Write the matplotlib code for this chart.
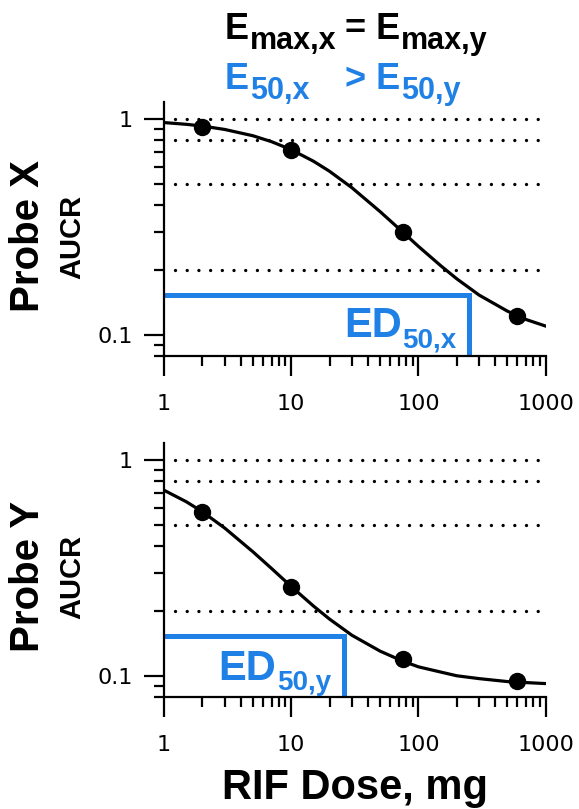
import matplotlib
matplotlib.use('Agg')
import matplotlib.pyplot as plt
from matplotlib.ticker import FixedLocator, FixedFormatter, LogLocator, NullFormatter
import numpy as np

# observed points (dose in mg, AUC ratio)
dose = [2, 10, 75, 600]
aucr_x = [0.921, 0.72, 0.30, 0.123]
aucr_y = [0.574, 0.259, 0.119, 0.0945]

# fitted curves
curve_dose = [1, 1.5, 2, 3, 5, 7, 10, 15, 20, 30, 50, 75, 100, 150, 200, 300, 500, 700, 1000]
curve_x = [0.961, 0.943, 0.926, 0.893, 0.835, 0.784, 0.720, 0.636, 0.572, 0.480,
           0.372, 0.300, 0.257, 0.209, 0.182, 0.153, 0.129, 0.118, 0.110]
curve_y = [0.723, 0.639, 0.575, 0.483, 0.375, 0.314, 0.259, 0.210, 0.183, 0.154,
           0.130, 0.117, 0.110, 0.104, 0.100, 0.097, 0.094, 0.093, 0.092]

ed50_x = 250
ed50_y = 26
ed50_level = 0.153

ref_lines = [1, 0.8, 0.5, 0.2]
xtick_vals = [1, 10, 100, 1000]
xtick_labels = ['1', '10', '100', '1000']
ytick_vals = [0.1, 1]
ytick_labels = ['0.1', '1']

BLUE = '#1f80e6'
BOLD = 'Liberation Sans'
W, H = 579, 809

plt.rcParams['font.family'] = ['DejaVu Sans']

fig = plt.figure(figsize=(W / 100, H / 100), dpi=100)
ax1 = fig.add_axes([164 / W, 1 - 356 / H, 381.7 / W, 254.3 / H])
ax2 = fig.add_axes([164 / W, 1 - 696.7 / H, 381.7 / W, 254 / H])


def subscripted(ax, x, y, main, sub, size, sub_size, color, drop, transform):
    t = ax.text(x, y, main, transform=transform, fontsize=size, fontweight='bold',
                family=BOLD, color=color, ha='left', va='baseline')
    ax.annotate(sub, xy=(1, 0), xycoords=t, xytext=(0.5, -drop), textcoords='offset points',
                fontsize=sub_size, fontweight='bold', family=BOLD, color=color,
                ha='left', va='bottom')
    return t


def panel(ax, curve, pts, ed50, sub, txt_xy):
    ax.set_xscale('log')
    ax.set_yscale('log')
    ax.set_xlim(1, 1000)
    ax.set_ylim(0.08, 1.2)

    for r in ref_lines:
        ax.axhline(r, xmin=0.03, xmax=1, color='k', lw=2.4, linestyle=(0, (0.01, 3.5)),
                   dash_capstyle='round', zorder=1)
    ax.plot([1, ed50, ed50], [ed50_level, ed50_level, 0.08], color=BLUE, lw=3.6,
            solid_joinstyle='miter', solid_capstyle='butt', zorder=2)
    ax.plot(curve_dose, curve, color='k', lw=2.3, zorder=3)
    ax.plot(dose, pts, 'o', color='k', ms=11.5, zorder=4)

    ax.xaxis.set_major_locator(FixedLocator(xtick_vals))
    ax.xaxis.set_major_formatter(FixedFormatter(xtick_labels))
    ax.xaxis.set_minor_locator(LogLocator(base=10, subs=np.arange(2, 10)))
    ax.xaxis.set_minor_formatter(NullFormatter())
    ax.yaxis.set_major_locator(FixedLocator(ytick_vals))
    ax.yaxis.set_major_formatter(FixedFormatter(ytick_labels))
    ax.yaxis.set_minor_locator(LogLocator(base=10, subs=np.arange(2, 10)))
    ax.yaxis.set_minor_formatter(NullFormatter())

    ax.tick_params(which='major', length=14.4, width=1.6, labelsize=16)
    ax.tick_params(which='minor', length=7.2, width=1.6)
    ax.tick_params(axis='x', which='major', pad=13)
    ax.tick_params(axis='y', which='major', pad=8)
    for s in ['top', 'right']:
        ax.spines[s].set_visible(False)
    for s in ['left', 'bottom']:
        ax.spines[s].set_linewidth(1.6)

    subscripted(ax, txt_xy[0], txt_xy[1], 'ED', sub, 30, 20, BLUE, 5, ax.transAxes)


panel(ax1, curve_x, aucr_x, ed50_x, '50,x', (0.471, 0.0735))
panel(ax2, curve_y, aucr_y, ed50_y, '50,y', (0.1433, 0.0657))

# title lines
ft = fig.transFigure
subscripted(ax1, 225 / W, 1 - 39 / H, 'E', 'max,x', 26, 22, 'k', 6.3, ft)
subscripted(ax1, 345 / W, 1 - 39 / H, '= E', 'max,y', 26, 22, 'k', 6.3, ft)
subscripted(ax1, 225 / W, 1 - 89.3 / H, 'E', '50,x', 26, 22, BLUE, 6.3, ft)
subscripted(ax1, 345 / W, 1 - 89.3 / H, '> E', '50,y', 26, 22, BLUE, 6.3, ft)

# y labels
fig.text(28 / W, 1 - 236 / H, 'Probe X', rotation=90, ha='center', va='center',
         fontsize=29, fontweight='bold', family=BOLD)
fig.text(72 / W, 1 - 237 / H, 'AUCR', rotation=90, ha='center', va='center',
         fontsize=21, fontweight='bold', family=BOLD)
fig.text(28 / W, 1 - 576 / H, 'Probe Y', rotation=90, ha='center', va='center',
         fontsize=29, fontweight='bold', family=BOLD)
fig.text(72 / W, 1 - 577 / H, 'AUCR', rotation=90, ha='center', va='center',
         fontsize=21, fontweight='bold', family=BOLD)

# x label
fig.text((164 + 381.7 / 2) / W, 1 - 799 / H, 'RIF Dose, mg', ha='center', va='baseline',
         fontsize=30, fontweight='bold', family=BOLD)

fig.savefig('out.png', dpi=100)
